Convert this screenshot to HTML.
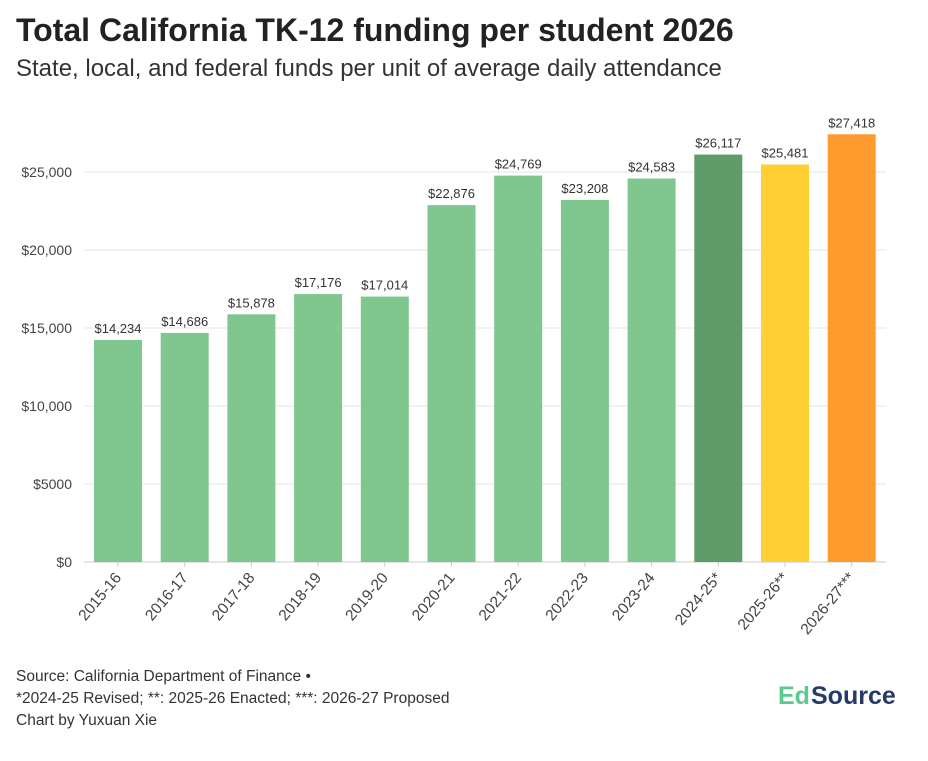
<!DOCTYPE html>
<html><head><meta charset="utf-8"><style>
body{margin:0;background:#fff;font-family:"Liberation Sans",sans-serif;}
</style></head><body>
<svg width="928" height="756" xmlns="http://www.w3.org/2000/svg">
<text x="16" y="41" font-size="32" font-weight="bold" fill="#222">Total California TK-12 funding per student 2026</text>
<text x="16" y="76" font-size="24" fill="#333">State, local, and federal funds per unit of average daily attendance</text>
<g id="grid"></g><g id="bars"></g><g id="xl"></g>
<text x="16" y="681" font-size="15.5" fill="#333">Source: California Department of Finance •</text>
<text x="16" y="703" font-size="15.5" fill="#333">*2024-25 Revised; **: 2025-26 Enacted; ***: 2026-27 Proposed</text>
<text x="16" y="725" font-size="15.5" fill="#333">Chart by Yuxuan Xie</text>
<g><text x="778" y="704" font-size="25" font-weight="bold" fill="#5cc98e">Ed</text><text x="811" y="704" font-size="25" font-weight="bold" fill="#253a6b">Source</text></g>
</svg>
<script>
const categories=["2015-16","2016-17","2017-18","2018-19","2019-20","2020-21","2021-22","2022-23","2023-24","2024-25*","2025-26**","2026-27***"];
const values=[14234,14686,15878,17176,17014,22876,24769,23208,24583,26117,25481,27418];
const labels=["$14,234","$14,686","$15,878","$17,176","$17,014","$22,876","$24,769","$23,208","$24,583","$26,117","$25,481","$27,418"];
const ticks=[0,5000,10000,15000,20000,25000];
const tickLabels=["$0","$5000","$10,000","$15,000","$20,000","$25,000"];
const colors=["#80c68f","#80c68f","#80c68f","#80c68f","#80c68f","#80c68f","#80c68f","#80c68f","#80c68f","#5e9c6a","#ffcf33","#ff9a2e"];
const NS="http://www.w3.org/2000/svg";
const y=v=>562-v*390/25000;
const xc=i=>118+i*66.7;
function mk(t,a,p,txt){const e=document.createElementNS(NS,t);for(const k in a)e.setAttribute(k,a[k]);if(txt!=null)e.textContent=txt;p.appendChild(e);return e;}
const g=document.getElementById('grid'),b=document.getElementById('bars'),xl=document.getElementById('xl');
ticks.forEach((t,i)=>{
 const l=mk('line',{x1:84,x2:886,y1:y(t),y2:y(t),stroke:i==0?'#ccc':'#e6e6e6','stroke-width':1},g);
 
 
 const tx=mk('text',{x:72,y:y(t)+5,'font-size':14,fill:'#444','text-anchor':'end'},g,tickLabels[i]);
 
 
});
categories.forEach((c,i)=>{
 const r=mk('rect',{x:xc(i)-24,y:y(values[i]),width:48,height:562-y(values[i]),fill:colors[i]},b);
 
 
 const v=mk('text',{x:xc(i),y:y(values[i])-7,'font-size':13,fill:'#333','text-anchor':'middle'},b,labels[i]);
 
 
 mk('line',{x1:xc(i),x2:xc(i),y1:562,y2:567,stroke:'#ccc'},xl);
 const t=mk('text',{x:xc(i)+4,y:578,'font-size':15.5,fill:'#444','text-anchor':'end',transform:`rotate(-50 ${xc(i)+4} 578)`},xl,c);
 
 
});
</script>
</body></html>
